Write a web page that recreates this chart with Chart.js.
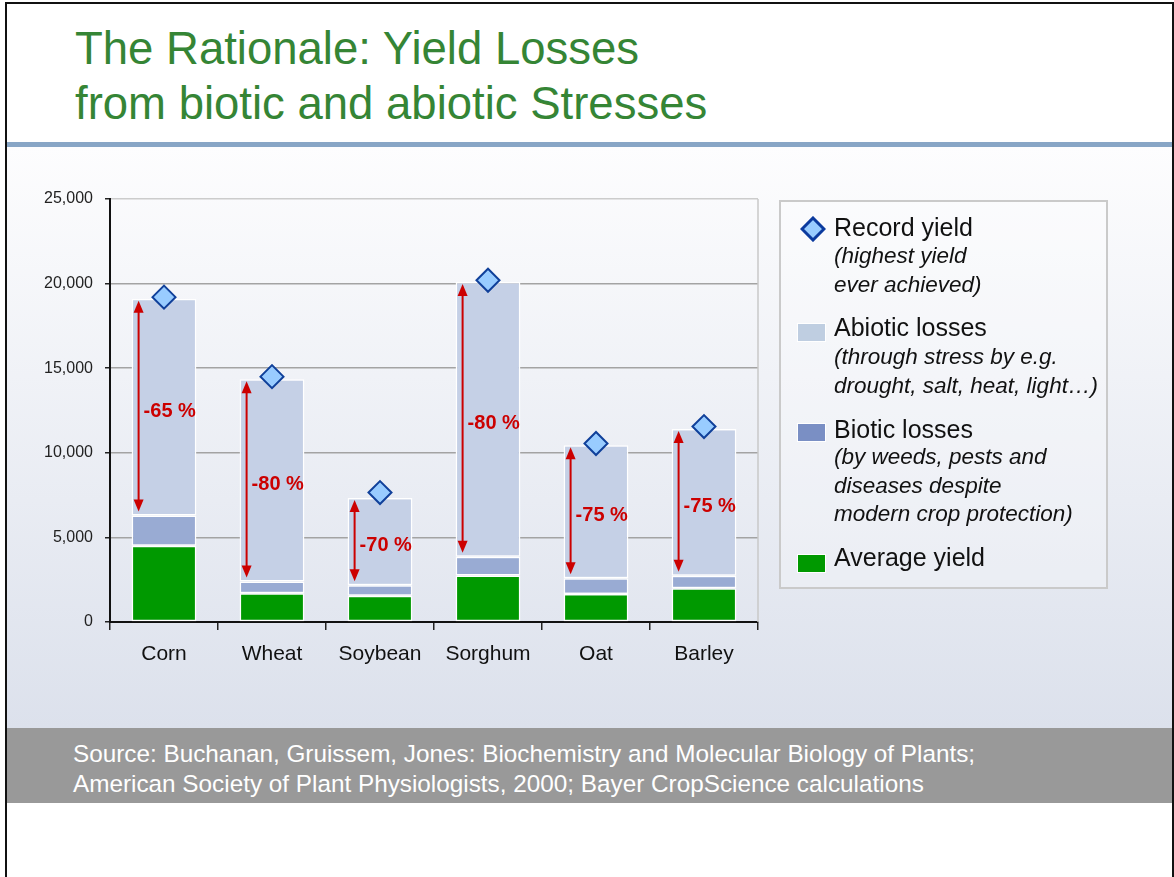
<!DOCTYPE html>
<html><head><meta charset="utf-8">
<script src="https://cdn.jsdelivr.net/npm/chart.js@4.4.1/dist/chart.umd.min.js"></script>
<style>
html,body{margin:0;padding:0;width:1174px;height:877px;overflow:hidden;background:#fff;font-family:Arial,"Liberation Sans",sans-serif;}
.abs{position:absolute;}
#title{left:75px;top:21px;font-size:45.5px;line-height:55px;color:#358535;white-space:nowrap;}
#sep{left:7px;top:142px;width:1165px;height:5px;background:#88a6c6;}
#bg{left:7px;top:147px;width:1165px;height:581px;background:linear-gradient(#fdfdfe,#dce1ec);}
#footer{left:7px;top:728px;width:1165px;height:75px;background:#999999;}
#footText{left:73px;top:739px;font-size:24.3px;line-height:30px;color:#fff;white-space:nowrap;}
#bTop{left:5px;top:2px;width:1169px;height:2px;background:#111;}
#bLeft{left:5px;top:2px;width:2px;height:875px;background:#111;}
#bRight{left:1172px;top:2px;width:2px;height:875px;background:#111;}
#chartBox{left:0;top:150px;width:1174px;height:578px;}
#legend{left:779px;top:200px;width:329px;height:389px;border:2px solid #cacaca;box-sizing:border-box;background:rgba(255,255,255,0.25);}
.lh{font-size:25px;line-height:30px;color:#111;white-space:nowrap;left:834px;}
.li{font-size:22.5px;line-height:28.5px;color:#111;font-style:italic;white-space:nowrap;left:834px;}
.sw{left:797px;width:29px;height:19px;box-sizing:border-box;border:1.5px solid #fff;}
</style></head>
<body>
<div id="bg" class="abs"></div>
<div id="title" class="abs">The Rationale: Yield Losses<br>from biotic and abiotic Stresses</div>
<div id="sep" class="abs"></div>
<div id="footer" class="abs"></div>
<div id="footText" class="abs">Source: Buchanan, Gruissem, Jones: Biochemistry and Molecular Biology of Plants;<br>American Society of Plant Physiologists, 2000; Bayer CropScience calculations</div>
<div id="legend" class="abs"></div>
<div id="chartBox" class="abs"><canvas id="c"></canvas></div>

<svg class="abs" style="left:800px;top:216px" width="26" height="26" viewBox="0 0 26 26"><polygon points="13,2 24,13 13,24 2,13" fill="#99ccff" stroke="#0b3a9e" stroke-width="3"/></svg>
<div class="abs lh" style="top:212px">Record yield</div>
<div class="abs li" style="top:242px">(highest yield<br>ever achieved)</div>

<div class="abs sw" style="top:323px;background:#bfcee1"></div>
<div class="abs lh" style="top:312px">Abiotic losses</div>
<div class="abs li" style="top:343px">(through stress by e.g.<br>drought, salt, heat, light…)</div>

<div class="abs sw" style="top:423px;background:#7a8fc4"></div>
<div class="abs lh" style="top:414px">Biotic losses</div>
<div class="abs li" style="top:443px">(by weeds, pests and<br>diseases despite<br>modern crop protection)</div>

<div class="abs sw" style="top:554px;background:#009900"></div>
<div class="abs lh" style="top:542px">Average yield</div>

<div id="bTop" class="abs"></div>
<div id="bLeft" class="abs"></div>
<div id="bRight" class="abs"></div>

<script>
const categories = ['Corn', 'Wheat', 'Soybean', 'Sorghum', 'Oat', 'Barley'];
const averageYield = [4500, 1700, 1550, 2750, 1650, 2000];
const bioticLosses = [1800, 700, 620, 1110, 930, 740];
const abioticLosses = [12800, 11950, 5160, 16240, 7870, 8660];
const recordYield = [19200, 14500, 7650, 20200, 10550, 11550];
const lossLabels = ['-65 %', '-80 %', '-70 %', '-80 %', '-75 %', '-75 %'];
const yTicks = [0, 5000, 10000, 15000, 20000, 25000];

const FONT = 'Arial, "Liberation Sans", sans-serif';

const framePlugin = {
  id: 'frame',
  beforeDatasetsDraw(chart) {
    const ctx = chart.ctx, a = chart.chartArea;
    ctx.save();
    ctx.strokeStyle = '#c8c8c8';
    ctx.lineWidth = 1.5;
    ctx.beginPath();
    ctx.moveTo(a.right, a.top);
    ctx.lineTo(a.right, a.bottom);
    ctx.stroke();
    ctx.restore();
  }
};

const arrowPlugin = {
  id: 'arrows',
  afterDatasetsDraw(chart) {
    const ctx = chart.ctx, y = chart.scales.y;
    const meta = chart.getDatasetMeta(0);
    ctx.save();
    meta.data.forEach((bar, i) => {
      const x = bar.x - bar.width / 2 + 7;
      const top = y.getPixelForValue(averageYield[i] + bioticLosses[i] + abioticLosses[i]) + 2;
      const bot = y.getPixelForValue(averageYield[i] + bioticLosses[i]) - 4;
      const hl = 12, hw = 5;
      ctx.strokeStyle = '#cc0000';
      ctx.fillStyle = '#cc0000';
      ctx.lineWidth = 2;
      ctx.beginPath();
      ctx.moveTo(x, top + hl - 1);
      ctx.lineTo(x, bot - hl + 1);
      ctx.stroke();
      ctx.beginPath();
      ctx.moveTo(x, top); ctx.lineTo(x - hw, top + hl); ctx.lineTo(x + hw, top + hl);
      ctx.closePath(); ctx.fill();
      ctx.beginPath();
      ctx.moveTo(x, bot); ctx.lineTo(x - hw, bot - hl); ctx.lineTo(x + hw, bot - hl);
      ctx.closePath(); ctx.fill();
      ctx.font = 'bold 20px ' + FONT;
      ctx.textAlign = 'left';
      ctx.textBaseline = 'middle';
      ctx.fillText(lossLabels[i], x + 5, (top + bot) / 2 + 5);
    });
    ctx.restore();
  }
};

new Chart(document.getElementById('c'), {
  data: {
    labels: categories,
    datasets: [
      { type: 'bar', label: 'Average yield', data: averageYield, backgroundColor: '#009900',
        borderColor: '#ffffff', borderWidth: 1.5, borderSkipped: false, stack: 's', order: 1 },
      { type: 'bar', label: 'Biotic losses', data: bioticLosses, backgroundColor: '#99abd3',
        borderColor: '#ffffff', borderWidth: 1.5, borderSkipped: false, stack: 's', order: 1 },
      { type: 'bar', label: 'Abiotic losses', data: abioticLosses, backgroundColor: '#c5d0e6',
        borderColor: '#ffffff', borderWidth: 1.5, borderSkipped: false, stack: 's', order: 1 },
      { type: 'line', label: 'Record yield', data: recordYield, showLine: false, stack: 'rec',
        pointStyle: 'rectRot', pointRadius: 11.5, pointHoverRadius: 11.5,
        pointBackgroundColor: '#99ccff', pointBorderColor: '#10409a', pointBorderWidth: 2, order: 0 }
    ]
  },
  options: {
    responsive: true,
    maintainAspectRatio: false,
    animation: false,
    layout: { padding: { top: 49, right: 416, left: 0, bottom: 0 } },
    plugins: { legend: { display: false }, tooltip: { enabled: false } },
    datasets: { bar: { categoryPercentage: 1, barPercentage: 0.6 } },
    scales: {
      x: {
        stacked: true,
        afterFit(scale) { scale.height = 106; },
        grid: { drawOnChartArea: false, drawTicks: true, tickLength: 8, color: '#222', lineWidth: 1.5, offset: true },
        border: { display: true, color: '#111', width: 2 },
        ticks: { color: '#111', font: { family: FONT, size: 21 }, padding: 12, maxRotation: 0, autoSkip: false }
      },
      y: {
        stacked: true,
        min: 0, max: 25000,
        afterFit(scale) { scale.width = 110; },
        afterBuildTicks(scale) { scale.ticks = yTicks.map(v => ({ value: v })); },
        grid: {
          drawTicks: true, tickLength: 5, tickColor: '#222', lineWidth: 1.5,
          color: (c) => c.tick && c.tick.value === 25000 ? '#cccccc' : (c.tick && c.tick.value === 0 ? 'rgba(0,0,0,0)' : '#a3a3a3')
        },
        border: { display: true, color: '#111', width: 2 },
        ticks: { color: '#222', font: { family: FONT, size: 16 }, padding: 12,
          callback: (v) => Number(v).toLocaleString('en-US') }
      }
    }
  },
  plugins: [framePlugin, arrowPlugin]
});
</script>
</body></html>
